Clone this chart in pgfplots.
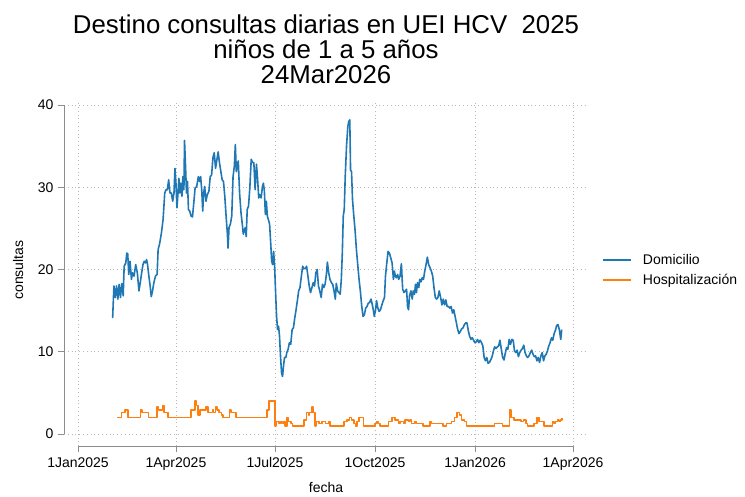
\documentclass[border=0pt]{standalone}
\usepackage{fontspec}
\setmainfont{Liberation Sans}
\usepackage{pgfplots}
\pgfplotsset{compat=1.18}
\definecolor{sblue}{RGB}{31,119,180}
\definecolor{sorange}{RGB}{255,127,14}
\definecolor{axgray}{RGB}{140,140,140}
\definecolor{grgray}{RGB}{185,185,185}

% Domicilio (x = days since 1 Jan 2025)
\pgfplotstableread{
d v
31.8 14.1
33.0 18.0
34.2 16.6
35.4 18.0
36.6 16.4
37.8 18.2
39.0 16.6
40.3 18.3
41.5 16.8
42.4 20.4
43.9 20.8
44.8 22.0
45.7 21.9
46.6 19.4
47.8 21.0
49.1 18.8
50.0 19.6
51.5 19.2
53.0 20.6
54.5 19.6
56.0 17.4
57.2 18.4
58.5 19.6
59.7 20.6
60.9 21.0
62.1 20.8
63.0 21.2
63.9 20.6
65.1 19.2
66.3 18.0
67.3 16.7
68.5 17.4
69.7 18.4
71.2 19.2
72.7 19.4
73.6 22.4
75.1 23.2
76.7 24.5
78.2 26.1
79.7 29.3
80.9 29.7
82.1 29.7
83.3 30.9
84.5 29.3
85.8 29.3
87.0 28.3
88.2 29.3
89.1 32.3
90.0 30.5
90.9 27.5
91.8 29.1
92.7 31.1
93.6 29.3
94.5 30.5
95.5 28.9
96.4 31.3
97.3 29.7
97.9 35.7
98.8 32.6
99.7 29.3
100.6 30.7
101.5 27.3
102.7 27.1
103.9 26.5
105.2 26.4
106.4 28.1
107.6 29.9
109.1 30.1
110.6 31.3
111.8 30.7
112.7 31.3
113.7 29.7
114.6 27.1
115.5 29.3
116.4 30.1
117.6 28.3
118.8 29.1
120.3 29.5
121.5 31.3
122.8 31.5
124.0 33.6
125.2 34.2
126.4 32.3
127.6 33.3
128.8 34.3
130.0 33.0
131.3 31.9
132.5 30.9
133.7 30.7
134.9 28.9
136.1 26.5
137.3 24.3
137.9 22.6
138.8 25.1
140.0 25.5
141.3 26.5
142.5 31.3
143.7 32.6
144.6 35.2
145.5 31.9
146.4 32.6
147.3 33.2
148.5 29.3
149.8 26.9
151.0 25.5
151.9 24.3
152.8 24.7
153.7 25.1
154.6 24.0
155.5 27.3
156.7 27.7
157.9 29.9
159.2 33.4
160.4 33.0
161.6 33.0
162.8 29.7
164.0 32.8
164.9 31.3
166.1 28.7
167.3 29.1
168.3 28.7
169.5 30.1
170.4 30.5
171.3 29.5
172.2 26.7
173.1 28.3
174.0 26.5
174.9 26.1
176.1 25.5
177.1 23.2
178.0 21.0
178.9 20.6
179.8 22.2
180.7 20.4
181.6 17.2
182.5 14.3
183.4 12.7
184.3 13.1
185.2 11.9
186.1 9.5
187.1 7.4
188.0 7.0
188.9 8.3
189.8 9.3
191.0 9.3
191.9 9.9
193.1 10.3
194.3 11.1
195.5 10.9
196.8 12.7
198.0 12.9
199.2 14.1
200.4 15.1
201.6 16.2
202.8 17.4
204.0 17.8
205.3 19.2
206.5 20.4
207.7 20.1
208.9 20.1
210.1 20.4
211.3 19.2
212.5 18.0
213.7 17.2
215.0 17.8
216.2 18.4
217.4 18.0
218.6 19.6
219.8 20.0
221.0 18.0
222.2 17.4
223.5 16.6
224.7 18.2
225.9 17.8
227.1 18.2
228.3 19.4
229.2 20.9
230.4 19.6
231.6 18.8
232.9 18.4
234.1 18.2
235.3 17.4
236.5 16.4
237.4 18.3
238.6 17.4
239.8 17.2
241.0 17.0
242.0 18.8
242.9 21.9
243.8 26.5
244.7 27.3
245.6 31.3
246.8 35.0
248.0 37.4
248.9 38.0
249.8 38.2
250.5 32.1
251.4 31.9
252.3 28.5
253.5 26.5
254.7 24.7
255.9 22.4
257.1 20.6
258.3 18.8
259.5 17.4
260.8 15.5
262.0 14.3
263.2 14.5
264.4 15.3
265.6 15.5
266.8 15.9
268.0 16.0
269.3 16.4
270.2 15.9
271.4 15.1
272.3 14.3
273.5 15.1
274.4 16.2
275.6 15.3
276.8 14.9
278.0 15.1
279.3 15.7
280.5 16.2
281.7 16.6
282.6 19.2
283.8 20.8
285.0 22.2
286.2 22.0
287.5 21.4
288.7 20.8
289.9 18.8
290.8 19.8
291.7 19.2
292.6 19.0
293.8 19.4
294.7 18.8
296.0 19.2
297.2 20.7
298.4 17.6
299.6 17.2
300.8 17.4
302.0 17.6
302.9 15.5
303.8 15.1
304.7 16.8
306.0 17.4
307.2 16.4
308.1 17.4
309.3 17.0
310.2 18.2
311.1 17.2
312.0 18.4
313.2 17.8
314.1 18.8
315.4 18.5
316.3 19.0
317.5 18.8
318.7 19.8
319.9 20.6
321.1 21.5
322.3 20.6
323.6 20.2
324.8 19.8
326.0 19.2
327.2 17.8
328.4 16.6
329.6 16.4
330.8 16.6
332.0 17.4
333.3 16.6
334.5 15.7
335.7 16.4
336.9 15.7
338.1 16.3
339.3 15.5
340.5 15.5
341.8 15.3
343.0 15.5
344.2 14.7
345.4 15.1
346.6 14.3
347.8 13.5
349.0 12.7
350.2 12.2
351.5 12.5
352.7 12.8
353.9 12.9
355.1 13.3
356.3 13.5
357.5 13.5
358.7 12.6
359.9 11.9
361.2 11.5
362.4 11.7
363.6 11.4
364.8 11.1
366.0 11.2
367.2 11.5
368.4 11.1
369.6 11.4
370.9 11.1
372.1 10.7
373.3 9.3
374.5 8.9
375.7 9.3
376.9 8.6
378.1 8.7
379.3 9.0
380.6 9.4
381.8 10.1
383.0 10.6
384.2 10.4
385.4 10.6
386.6 10.7
387.8 11.4
389.1 10.3
390.3 9.3
391.5 9.0
392.7 9.8
393.9 10.5
395.1 10.3
396.3 11.5
397.5 10.9
398.8 11.5
400.0 11.4
401.2 10.1
402.4 9.9
403.6 10.2
404.8 9.4
406.0 9.9
407.3 10.2
408.5 10.4
409.7 10.8
410.9 9.9
412.1 9.5
413.3 9.3
414.5 9.5
415.8 9.9
417.0 10.2
418.2 9.7
419.4 9.4
420.6 9.5
421.8 8.9
423.0 9.3
424.2 8.7
425.5 9.5
426.7 9.9
427.9 8.9
429.1 9.5
430.3 9.7
431.5 10.1
432.7 10.7
433.9 11.1
435.2 11.7
436.4 11.4
437.6 12.2
438.8 12.6
440.0 13.2
441.2 13.3
442.4 12.7
443.7 11.5
444.6 12.7
}\domicilio

% Hospitalizacion (value holds until next change)
\pgfplotstableread{
d v
35.8 2.0
39.8 2.6
43.4 2.9
45.9 2.0
57.4 2.9
59.0 2.6
64.7 2.0
72.4 3.3
73.9 2.9
77.8 3.45
79.0 2.6
82.7 2.0
104.0 2.9
107.6 4.0
108.9 3.45
110.4 2.3
111.9 2.9
117.4 3.3
119.2 2.6
123.5 2.9
124.7 2.6
126.5 3.3
127.7 2.9
129.6 2.6
131.7 2.3
133.2 2.0
139.3 2.9
140.8 2.6
145.4 2.0
173.7 2.9
175.8 4.0
181.0 1.0
181.9 1.5
184.9 1.3
186.5 1.5
188.0 1.3
189.5 1.5
190.4 1.0
191.9 2.0
193.2 1.5
195.6 1.3
197.1 1.0
207.8 1.7
209.9 2.6
211.7 2.3
212.9 2.6
214.8 3.3
216.0 2.6
217.8 1.0
219.0 1.5
221.5 1.3
224.5 1.5
227.5 1.3
230.6 1.5
231.8 1.0
244.3 1.5
247.3 1.7
249.5 2.0
251.3 1.7
253.4 1.3
254.9 1.0
256.5 1.5
258.0 2.0
262.5 1.0
273.2 1.3
274.7 1.5
276.2 1.3
277.8 1.0
285.4 1.5
288.4 2.0
291.4 1.7
294.5 1.3
296.0 1.5
299.1 1.3
300.6 1.7
303.6 1.5
305.1 1.7
306.7 1.3
309.7 1.5
311.2 1.3
317.3 1.0
323.4 1.5
324.9 1.3
335.6 1.0
338.6 1.3
343.2 1.5
346.2 2.0
348.6 2.6
350.8 2.3
352.3 1.7
355.3 1.5
356.9 1.0
382.7 1.3
390.3 1.0
396.7 2.9
397.9 2.0
401.0 1.7
407.1 1.5
409.5 1.7
411.6 1.3
413.2 1.0
419.3 1.3
421.7 2.0
423.8 1.5
428.4 1.0
436.0 1.5
437.5 1.3
439.0 1.5
440.6 1.7
442.1 1.5
443.6 1.7
445.1 1.9
}\hospital

\begin{document}
\begin{tikzpicture}[x=1pt,y=1pt]
\useasboundingbox (0,0) rectangle (745,496);
\begin{axis}[
    at={(64pt,50pt)}, anchor=south west,
    width=521pt, height=345pt, scale only axis,
    xmin=-12.9, xmax=466, ymin=-1.46, ymax=40.49,
    clip=false,
    axis line style={draw=none},
    xtick={0,90,181,273,365,455},
    xticklabels={1Jan2025,1Apr2025,1Jul2025,1Oct2025,1Jan2026,1Apr2026},
    ytick={0,10,20,30,40},
    xtick pos=left, ytick pos=left,
    tick align=outside,
    major tick length=6pt,
    tick style={axgray, line width=0.8pt},
    grid=major,
    major grid style={grgray, line width=0.8pt, dash pattern=on 0.8pt off 3pt},
    /pgf/number format/assume math mode=true,
    tick label style={font=\fontsize{14}{16}\selectfont, text=black},
    xticklabel style={yshift=-2pt},
    yticklabel style={xshift=-1pt},
    xlabel={fecha},
    ylabel={consultas},
    label style={font=\fontsize{14}{16}\selectfont},
    xlabel style={at={(axis description cs:0.503,-0.119)}, anchor=center},
    ylabel style={at={(axis description cs:-0.088,0.51)}, anchor=center},
    legend style={at={(axis description cs:1.033,0.51)}, anchor=west,
        draw=none, fill=none, inner sep=0pt, row sep=4pt,
        font=\fontsize{14}{16}\selectfont,
        /tikz/every odd column/.append style={column sep=9pt}},
    legend cell align=left,
    legend image code/.code={\draw[#1] (0pt,0pt) -- (28pt,0pt);},
]
\draw[axgray, line width=0.8pt] (axis cs:0,-1.46) -- (axis cs:455,-1.46);
\draw[axgray, line width=0.8pt] (axis cs:-12.9,0) -- (axis cs:-12.9,40);
\addplot[sblue, line width=1.6pt, line join=round] table[x=d, y=v] {\domicilio};
\addlegendentry{Domicilio}
\addplot[sorange, line width=1.6pt, line join=round, const plot] table[x=d, y=v] {\hospital};
\addlegendentry{Hospitalización}
\end{axis}
\node[anchor=base, font=\fontsize{25.8}{26}\selectfont] at (326,462) {Destino consultas diarias en UEI HCV\ \ 2025};
\node[anchor=base, font=\fontsize{25.8}{26}\selectfont] at (326,437) {niños de 1 a 5 años};
\node[anchor=base, font=\fontsize{25.8}{26}\selectfont] at (326,412) {24Mar2026};
\end{tikzpicture}
\end{document}
